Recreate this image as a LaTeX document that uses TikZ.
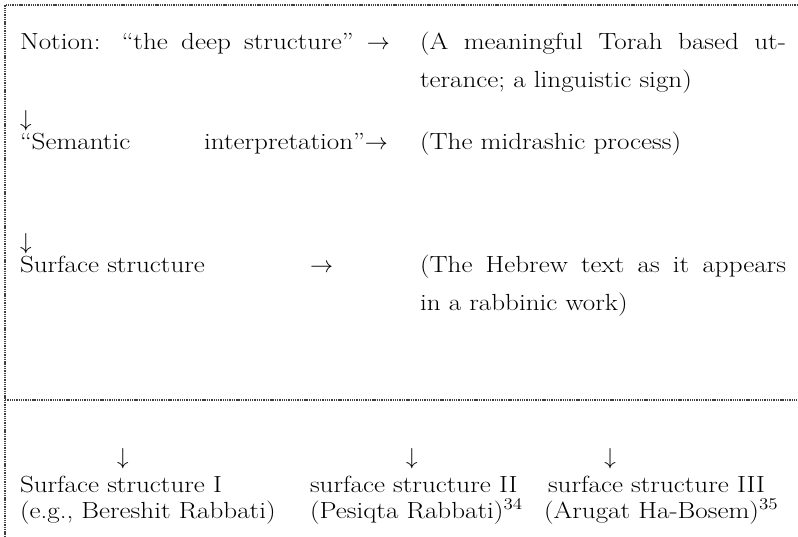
\documentclass[tikz,border=0pt]{standalone}
\usepackage{fontspec}
\setmainfont{Latin Modern Roman}[FakeStretch=1.16]
\begin{document}
\begin{tikzpicture}[x=0.75pt,y=-0.75pt,
  txt/.style={anchor=base west,inner sep=0pt,outer sep=0pt,font=\fontsize{17.5pt}{20pt}\selectfont},
  dotline/.style={black!75,line width=0.8pt,dash pattern=on 1pt off 0.7pt}]
\useasboundingbox (0,0) rectangle (798,536);
% frame lines
\coordinate (tl) at (5,5);
\coordinate (tr) at (798,5);
\coordinate (bl) at (5,536);
\coordinate (ml) at (5,400);
\coordinate (mr) at (798,400);
\draw[dotline] (tr) -- (tl) -- (bl);
\draw[dotline] (ml) -- (mr);
% row 1
\node[txt] (n1) at (20,49) {\makebox[277.5pt][s]{Notion: “the deep structure” $\rightarrow$}};
\node[txt] (r1a) at (420,49) {\makebox[274.5pt][s]{(A meaningful Torah based ut-}};
\node[txt] (r1b) at (420,87) {terance; a linguistic sign)};
% row 2
\node[txt] (d1) at (20,126) {$\downarrow$};
\node[txt] (n2) at (20,149) {\makebox[276pt][s]{“Semantic interpretation”$\rightarrow$}};
\node[txt] (r2) at (420,149) {(The midrashic process)};
% row 3
\node[txt] (d2) at (20,249) {$\downarrow$};
\node[txt] (n3) at (20,272) {Surface structure};
\node[txt] (a3) at (310,272) {$\rightarrow$};
\node[txt] (r3a) at (420,272) {\makebox[274.5pt][s]{(The Hebrew text as it appears}};
\node[txt] (r3b) at (420,310) {in a rabbinic work)};
% bottom row
\node[txt,anchor=base] (b1) at (123,464) {$\downarrow$};
\node[txt,anchor=base] (b2) at (412,464) {$\downarrow$};
\node[txt,anchor=base] (b3) at (610,464) {$\downarrow$};
\node[txt] (s1) at (20,492) {Surface structure I};
\node[txt] (s2) at (310,492) {surface structure II};
\node[txt] (s3) at (548,492) {surface structure III};
\node[txt] (e1) at (20,518) {(e.g., Bereshit Rabbati)};
\node[txt] (e2) at (310,518) {(Pesiqta Rabbati)\textsuperscript{34}};
\node[txt] (e3) at (544,518) {(Arugat Ha-Bosem)\textsuperscript{35}};
\end{tikzpicture}
\end{document}
